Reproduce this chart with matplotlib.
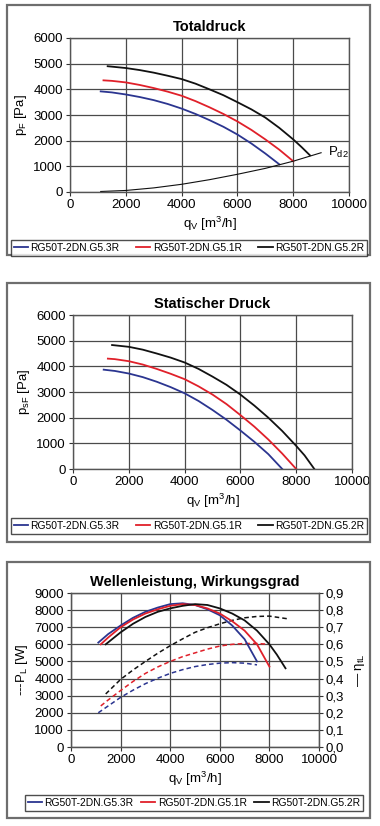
import matplotlib.pyplot as plt
from matplotlib.patches import Rectangle
from matplotlib.ticker import FuncFormatter

plt.rcParams['font.family'] = ['Liberation Sans', 'DejaVu Sans']
plt.rcParams['mathtext.fontset'] = 'custom'
plt.rcParams['mathtext.rm'] = 'Liberation Sans'
plt.rcParams['mathtext.it'] = 'Liberation Sans:italic'

names = ["RG50T-2DN.G5.3R", "RG50T-2DN.G5.1R", "RG50T-2DN.G5.2R"]
colors = ["#2b3590", "#e0202a", "#111111"]

# Totaldruck
tot_q = [
    [1100, 1500, 2000, 2500, 3000, 3500, 4000, 4500, 5000, 5500, 6000, 6500, 7000, 7500],
    [1200, 1500, 2000, 2500, 3000, 3500, 4000, 4500, 5000, 5500, 6000, 6500, 7000, 7500, 8000],
    [1350, 2000, 2500, 3000, 3500, 4000, 4500, 5000, 5500, 6000, 6500, 7000, 7500, 8000, 8300, 8600],
]
tot_p = [
    [3920, 3880, 3800, 3700, 3580, 3430, 3250, 3040, 2800, 2540, 2240, 1890, 1500, 1080],
    [4350, 4330, 4270, 4170, 4050, 3910, 3750, 3540, 3300, 3040, 2750, 2420, 2050, 1650, 1200],
    [4900, 4830, 4750, 4650, 4530, 4400, 4220, 4000, 3770, 3500, 3220, 2900, 2500, 2050, 1750, 1430],
]
pd2_q = [1100, 2000, 3000, 4000, 5000, 6000, 7000, 8000, 9000]
pd2_p = [20, 60, 160, 300, 480, 690, 920, 1200, 1530]

# Statischer Druck
sta_q = [
    [1100, 1500, 2000, 2500, 3000, 3500, 4000, 4500, 5000, 5500, 6000, 6500, 7000, 7500],
    [1250, 1500, 2000, 2500, 3000, 3500, 4000, 4500, 5000, 5500, 6000, 6500, 7000, 7500, 8000],
    [1400, 2000, 2500, 3000, 3500, 4000, 4500, 5000, 5500, 6000, 6500, 7000, 7500, 8000, 8300, 8650],
]
sta_p = [
    [3870, 3820, 3720, 3580, 3400, 3190, 2950, 2650, 2300, 1920, 1500, 1060, 580, 0],
    [4300, 4280, 4200, 4070, 3900, 3710, 3500, 3220, 2900, 2530, 2100, 1650, 1150, 600, 0],
    [4830, 4760, 4650, 4500, 4340, 4150, 3900, 3600, 3280, 2900, 2470, 2000, 1480, 900, 530, 0],
]

# Wirkungsgrad (rechte Achse)
eta_q = [
    [1100, 1500, 2000, 2500, 3000, 3500, 4000, 4500, 5000, 5500, 6000, 6500, 7000, 7500],
    [1200, 1500, 2000, 2500, 3000, 3500, 4000, 4500, 5000, 5500, 6000, 6500, 7000, 7500, 8000],
    [1400, 2000, 2500, 3000, 3500, 4000, 4500, 5000, 5500, 6000, 6500, 7000, 7500, 8000, 8300, 8650],
]
eta = [
    [0.61, 0.66, 0.71, 0.755, 0.79, 0.815, 0.835, 0.84, 0.83, 0.805, 0.77, 0.71, 0.63, 0.50],
    [0.60, 0.64, 0.70, 0.745, 0.78, 0.805, 0.825, 0.835, 0.83, 0.81, 0.78, 0.735, 0.68, 0.60, 0.47],
    [0.60, 0.67, 0.72, 0.76, 0.79, 0.81, 0.825, 0.835, 0.83, 0.81, 0.78, 0.74, 0.68, 0.60, 0.54, 0.46],
]
# Wellenleistung (linke Achse)
pw_q = [
    [1100, 1500, 2000, 2500, 3000, 3500, 4000, 4500, 5000, 5500, 6000, 6500, 7000, 7500],
    [1200, 1500, 2000, 2500, 3000, 3500, 4000, 4500, 5000, 5500, 6000, 6500, 7000, 7500, 8000],
    [1400, 2000, 2500, 3000, 3500, 4000, 4500, 5000, 5500, 6000, 6500, 7000, 7500, 8000, 8700],
]
pw = [
    [2000, 2400, 2900, 3320, 3700, 4020, 4300, 4520, 4700, 4820, 4900, 4930, 4900, 4800],
    [2400, 2750, 3300, 3830, 4300, 4680, 5000, 5280, 5500, 5720, 5900, 6000, 6050, 6050, 6000],
    [3100, 3950, 4500, 5000, 5480, 5920, 6320, 6700, 6970, 7200, 7400, 7550, 7630, 7650, 7500],
]

W, H = 380, 826
fig = plt.figure(figsize=(W / 100, H / 100), dpi=100)


def rect(l, t, r, b):
    return [l / W, 1 - b / H, (r - l) / W, (b - t) / H]


def frame(t, b):
    fig.patches.append(Rectangle((7 / W, 1 - b / H), 363 / W, (b - t) / H,
                                 transform=fig.transFigure, fill=False,
                                 edgecolor="#6e6e6e", lw=1.6))


def style(ax):
    ax.grid(True, color="#4a4a4a", lw=0.9)
    ax.set_axisbelow(True)
    for s in ax.spines.values():
        s.set_color("#555555")
        s.set_linewidth(1.0)
    ax.tick_params(labelsize=9.5, length=3, color="#333333", pad=2)
    ax.set_xlim(0, 10000)
    ax.set_xticks(range(0, 10001, 2000))
    ax.set_xlabel(r"q$_\mathregular{V}$ [m$^\mathregular{3}$/h]", fontsize=9.5, labelpad=3)


def legend(handles, y, x0, x1):
    fig.legend(handles, names, loc="center", ncol=3, fontsize=7.4,
               bbox_to_anchor=rect(x0, y - 8, x1, y + 8), mode="expand",
               frameon=True, fancybox=False, edgecolor="#222222",
               handlelength=1.4, handletextpad=0.25, columnspacing=0.3,
               borderpad=0.25, borderaxespad=0)


# panel 1
frame(5, 255)
ax1 = fig.add_axes(rect(70, 38, 349, 192))
hs = []
for q, p, c in zip(tot_q, tot_p, colors):
    hs.append(ax1.plot(q, p, color=c, lw=1.3)[0])
ax1.plot(pd2_q, pd2_p, color="#111111", lw=0.8)
ax1.text(9250, 1550, r"P$_\mathregular{d2}$", fontsize=9.5, va="center")
ax1.set_ylim(0, 6000)
ax1.set_yticks(range(0, 6001, 1000))
style(ax1)
ax1.set_ylabel(r"p$_\mathregular{F}$ [Pa]", fontsize=9.5, labelpad=3)
ax1.set_title("Totaldruck", fontsize=10.5, fontweight="bold", pad=5)
legend(hs, 248, 11, 367)

# panel 2
frame(283, 542)
ax2 = fig.add_axes(rect(73, 315, 352, 469))
hs = []
for q, p, c in zip(sta_q, sta_p, colors):
    hs.append(ax2.plot(q, p, color=c, lw=1.3)[0])
ax2.set_ylim(0, 6000)
ax2.set_yticks(range(0, 6001, 1000))
style(ax2)
ax2.set_ylabel(r"p$_\mathregular{sF}$ [Pa]", fontsize=9.5, labelpad=3)
ax2.set_title("Statischer Druck", fontsize=10.5, fontweight="bold", pad=5)
legend(hs, 526, 11, 367)

# panel 3
frame(562, 818)
ax3 = fig.add_axes(rect(71, 593, 319, 747))
ax3r = ax3.twinx()
hs = []
for q, p, c in zip(pw_q, pw, colors):
    ax3.plot(q, p, color=c, lw=1.1, ls=(0, (3, 2)))
for q, e, c in zip(eta_q, eta, colors):
    hs.append(ax3r.plot(q, e, color=c, lw=1.3)[0])
ax3.set_ylim(0, 9000)
ax3.set_yticks(range(0, 9001, 1000))
ax3r.set_ylim(0, 0.9)
ax3r.set_yticks([i / 10 for i in range(10)])
ax3r.yaxis.set_major_formatter(FuncFormatter(lambda v, _: f"{v:.1f}".replace(".", ",")))
style(ax3)
for s in ax3r.spines.values():
    s.set_color("#555555")
ax3r.tick_params(labelsize=9.5, length=3, color="#333333", pad=2)
ax3.set_ylabel(r"---P$_\mathregular{L}$ [W]", fontsize=9.5, labelpad=3)
ax3r.set_ylabel(r"— η$_\mathregular{tL}$", fontsize=9.5, labelpad=6)
ax3.set_title("Wellenleistung, Wirkungsgrad", fontsize=10.5, fontweight="bold", pad=5)
legend(hs, 803, 25, 363)

fig.savefig("out.png", dpi=100)
